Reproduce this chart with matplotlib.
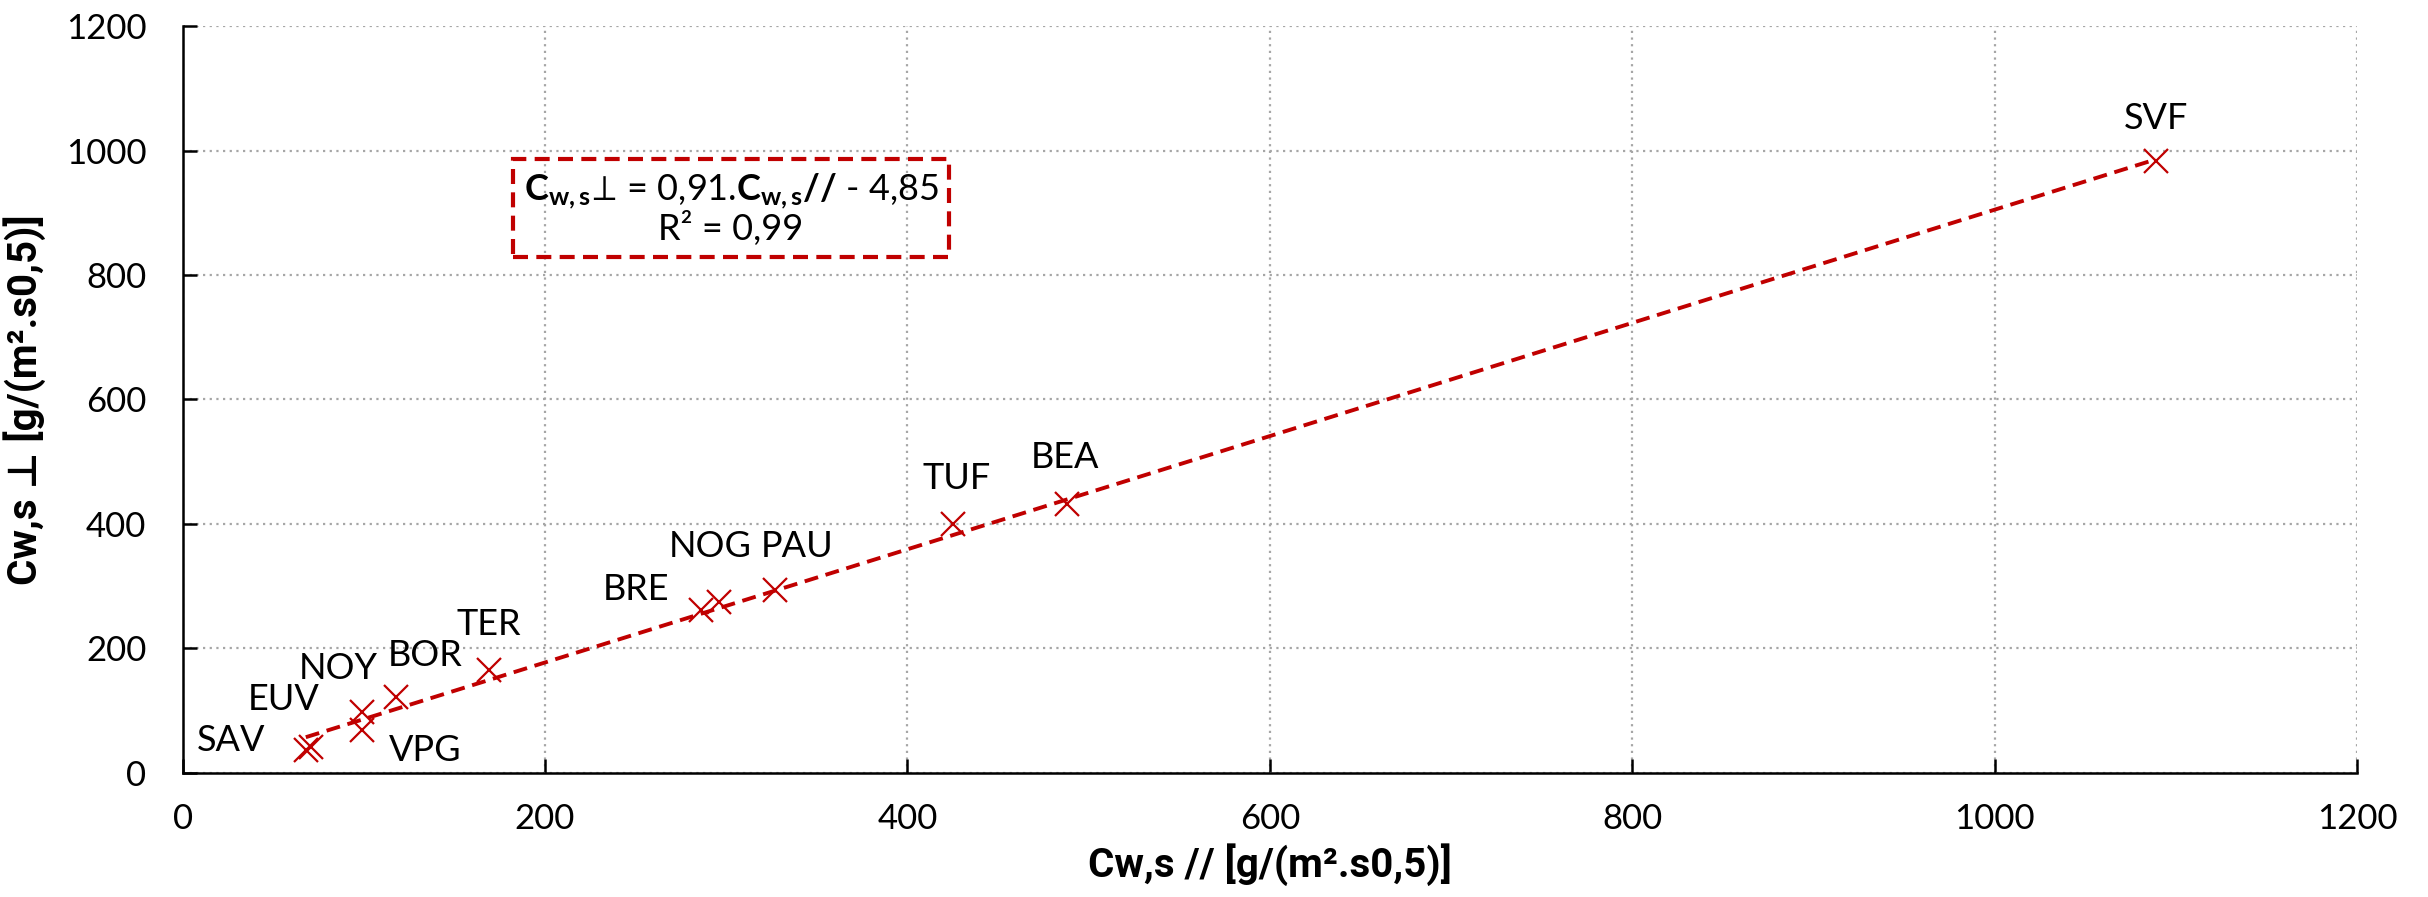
import numpy as np
import matplotlib
matplotlib.use('Agg')
import matplotlib.pyplot as plt
from matplotlib.patches import Rectangle

# ====================
# DATOS
# ====================
sitios = ['SAV', 'EUV', 'NOY', 'VPG', 'BOR', 'TER', 'BRE', 'NOG', 'PAU', 'TUF', 'BEA', 'SVF']
cw_par = [68, 71, 99, 99, 118, 169, 286, 296, 327, 425, 488, 1089]
cw_perp = [37, 42, 98, 69, 121, 165, 262, 275, 294, 400, 432, 983]

# posiciones de las etiquetas (coordenadas de datos)
etiq_x = [27, 56, 86, 134, 134, 169, 250, 291, 339, 427, 487, 1089]
etiq_y = [52, 117, 167, 35, 189, 239, 294, 364, 364, 473, 506, 1051]

# recta de tendencia
pendiente = 0.91
ordenada = -4.85
r2 = 0.99

rojo = '#C00000'

plt.rcParams['font.family'] = ['Lato', 'DejaVu Sans']
plt.rcParams['mathtext.fontset'] = 'custom'
plt.rcParams['mathtext.rm'] = 'Lato'
plt.rcParams['mathtext.bf'] = 'Lato:bold'
plt.rcParams['mathtext.it'] = 'Lato:italic'
plt.rcParams['mathtext.fallback'] = 'stixsans'

fig = plt.figure(figsize=(24.28, 8.97), dpi=100)
ax = fig.add_axes([0.0752, 0.1386, 0.8956, 0.8321])

# ====================
# RECTA Y PUNTOS
# ====================
x_lin = np.array([min(cw_par), max(cw_par)])
y_lin = pendiente * x_lin + ordenada
ax.plot(x_lin, y_lin, color=rojo, lw=2.8, dashes=(3.6, 2.0), zorder=3)

ax.plot(cw_par, cw_perp, linestyle='none', marker='x', markersize=17,
        markeredgewidth=1.6, color=rojo, zorder=4)

for nombre, tx, ty in zip(sitios, etiq_x, etiq_y):
    ax.text(tx, ty, nombre, ha='center', va='center', fontsize=26, color='black')

# ====================
# CAJA DE LA ECUACIÓN
# ====================
caja = Rectangle((182.5, 829), 240.5, 157.5, fill=False, edgecolor=rojo,
                 lw=3.0, linestyle=(0, (3.6, 2.0)), zorder=5)
ax.add_patch(caja)
eq = (r'$\mathbf{C}_{\mathbf{w,s}}\!{\perp}\!$ = 0,91.$\mathbf{C}_{\mathbf{w,s}}\mathbf{//}$ - 4,85'
      + '\nR² = 0,99')
ax.text(302.7, 907, eq, ha='center', va='center', fontsize=26,
        linespacing=1.0, zorder=6)

# ====================
# EJES
# ====================
ax.set_xlim(0, 1200)
ax.set_ylim(0, 1200)
ax.set_xticks(np.arange(0, 1201, 200))
ax.set_yticks(np.arange(0, 1201, 200))
ax.grid(True, color='#a6a6a6', linestyle=(0, (1, 2)), lw=1.6)
ax.set_axisbelow(True)
for lado in ['top', 'right']:
    ax.spines[lado].set_visible(False)
for lado in ['left', 'bottom']:
    ax.spines[lado].set_linewidth(1.8)
ax.tick_params(direction='in', length=10, width=1.8, labelsize=25, pad=22)
ax.tick_params(axis='y', pad=26)

ax.set_xlabel('Cw,s // [g/(m².s0,5)]', fontsize=29, fontweight='bold',
              family=['Roboto', 'DejaVu Sans'], labelpad=6)
ax.set_ylabel('Cw,s ⊥ [g/(m².s0,5)]', fontsize=29, fontweight='bold',
              family=['Roboto', 'DejaVu Sans'], labelpad=14)

fig.savefig('out.png', dpi=100)
